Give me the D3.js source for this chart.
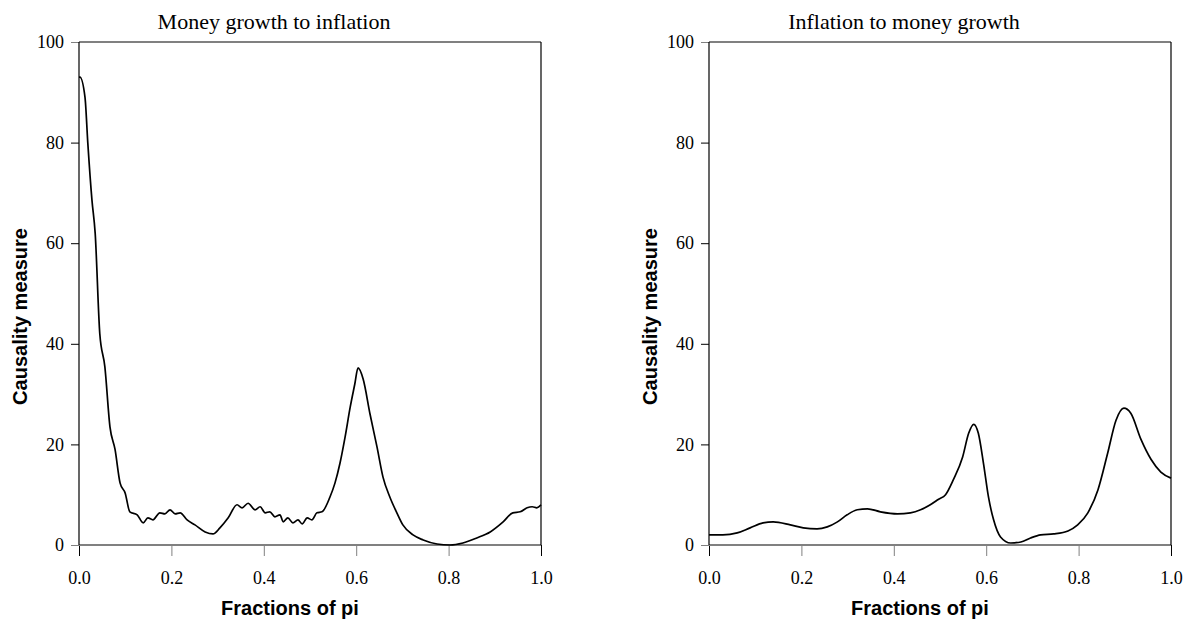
<!DOCTYPE html>
<html>
<head>
<meta charset="utf-8">
<script src="https://cdn.jsdelivr.net/npm/d3@7"></script>
<style>
  body { margin: 0; background: #fff; }
  .tick text { font-family: "Liberation Serif", "Times New Roman", serif; font-size: 18px; fill: #000; }
  .title { font-family: "Liberation Serif", "Times New Roman", serif; font-size: 22px; }
  .label { font-family: "Liberation Sans", Arial, sans-serif; font-size: 20px; font-weight: bold; }
</style>
</head>
<body>
<div id="chart"></div>
<script>
/* Data */
let titles = ["Money growth to inflation", "Inflation to money growth"];
let xTicks = [0, 0.2, 0.4, 0.6, 0.8, 1.0];
let yTicks = [0, 20, 40, 60, 80, 100];

let moneyX = [0, 0.002, 0.013, 0.019, 0.028, 0.035, 0.045, 0.056, 0.067, 0.078, 0.089, 0.100, 0.110, 0.126, 0.139, 0.149, 0.160, 0.175, 0.186, 0.197, 0.208, 0.219, 0.234, 0.251, 0.273, 0.290, 0.305, 0.323, 0.342, 0.353, 0.366, 0.381, 0.392, 0.403, 0.413, 0.424, 0.435, 0.442, 0.452, 0.463, 0.474, 0.483, 0.494, 0.504, 0.515, 0.526, 0.543, 0.554, 0.565, 0.576, 0.587, 0.597, 0.604, 0.615, 0.630, 0.645, 0.658, 0.673, 0.688, 0.701, 0.723, 0.745, 0.775, 0.803, 0.831, 0.861, 0.890, 0.918, 0.939, 0.955, 0.970, 0.981, 0.991, 1.0];
let moneyY = [93, 93, 89, 80, 68.6, 62, 42, 35.4, 23.5, 19, 12.3, 10.3, 6.6, 6, 4.4, 5.4, 5, 6.4, 6.2, 7, 6.2, 6.4, 5, 4, 2.6, 2.2, 3.4, 5.4, 8, 7.4, 8.3, 7, 7.6, 6.4, 6.6, 5.6, 6, 4.6, 5.4, 4.4, 5, 4.2, 5.4, 5, 6.4, 6.6, 9.5, 12.3, 16.3, 21.5, 27.4, 32, 35.2, 33, 26, 19.5, 13.5, 9.5, 6.4, 4, 2, 1, 0.2, 0, 0.4, 1.4, 2.6, 4.6, 6.4, 6.6, 7.4, 7.6, 7.4, 8];

let inflX = [0, 0.030, 0.061, 0.089, 0.117, 0.139, 0.176, 0.204, 0.234, 0.256, 0.278, 0.299, 0.321, 0.343, 0.371, 0.408, 0.436, 0.458, 0.479, 0.497, 0.512, 0.529, 0.549, 0.562, 0.573, 0.583, 0.594, 0.605, 0.616, 0.631, 0.653, 0.675, 0.696, 0.718, 0.746, 0.777, 0.798, 0.820, 0.842, 0.863, 0.881, 0.898, 0.913, 0.935, 0.957, 0.978, 1.0];
let inflY = [2, 2, 2.4, 3.4, 4.4, 4.6, 4, 3.4, 3.2, 3.6, 4.6, 6, 7, 7.2, 6.6, 6.2, 6.4, 7, 8, 9.1, 10, 13, 17.5, 22.2, 24, 22.2, 16.3, 9.5, 5, 1.6, 0.4, 0.6, 1.4, 2, 2.2, 2.8, 4, 6.4, 11, 18.3, 24.8, 27.2, 26.2, 21, 17, 14.5, 13.3];

let series = [
  { title: titles[0], xs: moneyX, ys: moneyY },
  { title: titles[1], xs: inflX, ys: inflY }
];

let width = 1197;
let height = 626;
let plotW = 462;
let plotH = 503;
let lefts = [79, 709];
let plotTop = 42;

let svg = d3
  .select("#chart")
  .append("svg")
  .attr("width", width)
  .attr("height", height);

series.forEach(function (s, i) {
  let g = svg.append("g").attr("transform", `translate(${lefts[i]}, ${plotTop})`);

  /* Scales */
  let xScale = d3.scaleLinear().domain([0, 1]).range([0, plotW]);
  let yScale = d3.scaleLinear().domain([0, 100]).range([plotH, 0]);

  /* Y axis */
  let yAxis = g.append("g")
    .call(d3.axisLeft(yScale).tickValues(yTicks).tickFormat(d3.format("d")).tickSize(8).tickPadding(7));
  yAxis.select(".domain").remove();
  yAxis.selectAll(".tick line").attr("stroke", d => (d === 0 || d === 100) ? "#808080" : "#000");

  /* X axis */
  let xAxis = g.append("g")
    .attr("transform", `translate(0, ${plotH})`)
    .call(d3.axisBottom(xScale).tickValues(xTicks).tickFormat(d3.format(".1f")).tickSize(11).tickPadding(15));
  xAxis.select(".domain").remove();
  xAxis.selectAll(".tick line").attr("stroke", d => (d === 0 || d === 1) ? "#000" : "#808080");

  /* Frame */
  g.append("line").attr("x1", 0).attr("x2", plotW).attr("y1", 0).attr("y2", 0)
    .attr("stroke", "#808080").attr("stroke-width", 2);
  g.append("line").attr("x1", 0).attr("x2", plotW).attr("y1", plotH).attr("y2", plotH)
    .attr("stroke", "#808080").attr("stroke-width", 2);
  g.append("line").attr("x1", 0).attr("x2", 0).attr("y1", 0).attr("y2", plotH)
    .attr("stroke", "#000").attr("stroke-width", 1.2);
  g.append("line").attr("x1", plotW).attr("x2", plotW).attr("y1", 0).attr("y2", plotH)
    .attr("stroke", "#000").attr("stroke-width", 1.2);

  /* Curve */
  let pts = s.xs.map((x, k) => [x, s.ys[k]]);
  let line = d3.line()
    .x(d => xScale(d[0]))
    .y(d => yScale(d[1]))
    .curve(d3.curveMonotoneX);
  g.append("path")
    .attr("d", line(pts))
    .attr("fill", "none")
    .attr("stroke", "#000")
    .attr("stroke-width", 1.7);

  /* Titles and labels */
  g.append("text")
    .attr("class", "title")
    .attr("x", plotW / 2 - 36)
    .attr("y", -13)
    .attr("text-anchor", "middle")
    .text(s.title);

  g.append("text")
    .attr("class", "label")
    .attr("x", plotW / 2 - 20)
    .attr("y", plotH + 70)
    .attr("text-anchor", "middle")
    .text("Fractions of pi");

  g.append("text")
    .attr("class", "label")
    .attr("text-anchor", "middle")
    .attr("transform", `translate(-52, ${plotH / 2 + 23}) rotate(-90)`)
    .text("Causality measure");
});
</script>
</body>
</html>
